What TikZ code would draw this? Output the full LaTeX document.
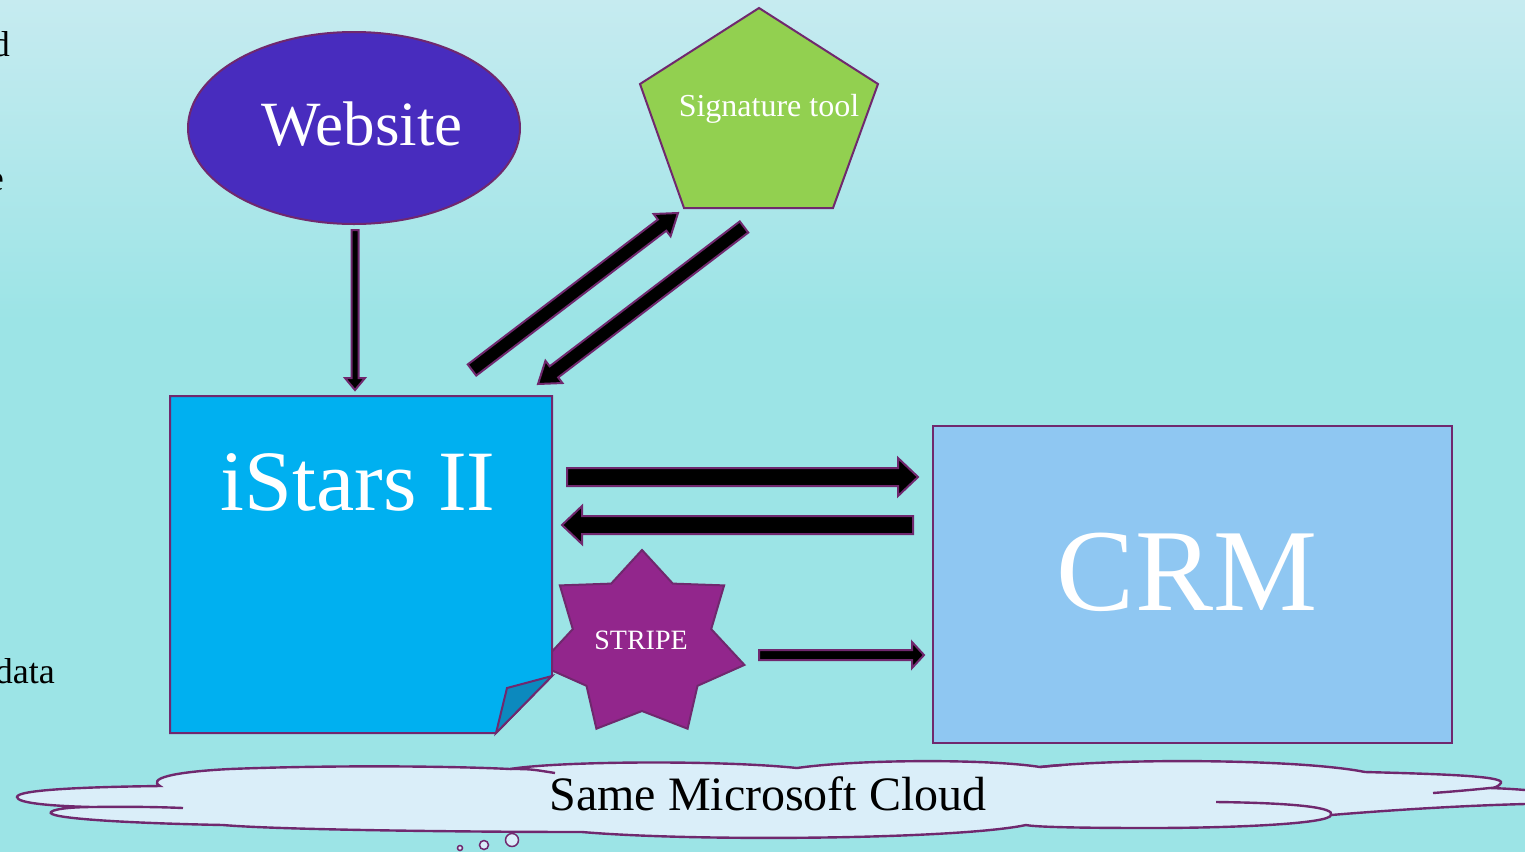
\documentclass[tikz,border=0pt]{standalone}
\usepackage{fontspec}
\setmainfont{Liberation Serif}
\usetikzlibrary{calc,shapes.geometric}
\definecolor{bgtop}{RGB}{198,235,240}
\definecolor{bgbot}{RGB}{156,228,230}
\definecolor{edge}{RGB}{112,40,110}
\definecolor{webfill}{RGB}{72,44,190}
\definecolor{sigfill}{RGB}{146,208,80}
\definecolor{istfill}{RGB}{0,176,240}
\definecolor{foldfill}{RGB}{12,137,190}
\definecolor{crmfill}{RGB}{143,199,242}
\definecolor{starfill}{RGB}{146,38,140}
\definecolor{cloudfill}{RGB}{218,238,249}
\tikzset{
  shapeline/.style={draw=edge, line width=2pt, line join=miter},
  blockarr/.style={draw=edge, line width=2pt, fill=black, line join=miter},
  wtext/.style={text=white, inner sep=0pt},
  btext/.style={text=black, inner sep=0pt},
  cloudline/.style={draw=edge, line width=2.4pt},
}
\newcommand\blockarrow[5]{%
  \coordinate (bahead) at ($(#2)!#5!(#1)$);
  \draw[blockarr] ($(#1)!#3!90:(#2)$) -- ($(bahead)!#3!90:(#2)$) -- ($(bahead)!#4!90:(#2)$) -- (#2) -- ($(bahead)!#4!-90:(#2)$) -- ($(bahead)!#3!-90:(#2)$) -- ($(#1)!#3!-90:(#2)$) -- cycle;}
\begin{document}
\begin{tikzpicture}[x=1pt,y=-1pt]
\useasboundingbox (0,0) rectangle (1525,852);
\clip (0,0) rectangle (1525,852);
% background
\fill[bgbot] (0,0) rectangle (1525,852);
\shade[top color=bgtop, bottom color=bgbot] (0,0) rectangle (1525,320);
% cut-off text at left edge (as in the reference)
\node[btext, anchor=base east, font=\fontsize{36}{40}\selectfont] (tl1) at (10,56) {d};
\node[btext, anchor=base east, font=\fontsize{36}{40}\selectfont] (tl2) at (4,190) {e};
\node[btext, anchor=base east, font=\fontsize{36}{40}\selectfont] (tl3) at (55,683) {data};
% cloud outline
\draw[cloudline, fill=cloudfill]
  (92,807) .. controls (50,806) and (17,803) .. (17,797)
  .. controls (17,790) and (80,787) .. (160,786)
  .. controls (148,779) and (170,772) .. (230,769)
  .. controls (330,765) and (450,766) .. (510,769)
  .. controls (560,761) and (720,760) .. (797,768)
  .. controls (860,759) and (990,759) .. (1040,767)
  .. controls (1120,758) and (1300,759) .. (1365,772)
  .. controls (1440,774) and (1505,776) .. (1501,783)
  .. controls (1498,787) and (1494,788) .. (1490,788)
  .. controls (1520,789) and (1560,792) .. (1560,798)
  .. controls (1560,803) and (1530,804) .. (1525,804)
  .. controls (1450,806) and (1380,811) .. (1331,815)
  .. controls (1330,824) and (1230,828) .. (1150,828)
  .. controls (1080,828) and (1035,827) .. (1026,825)
  .. controls (960,839) and (700,842) .. (582,832)
  .. controls (480,832) and (280,830) .. (223,825)
  .. controls (120,823) and (45,818) .. (51,812)
  .. controls (55,808) and (80,807) .. (92,807) -- cycle;
% inner cloud arcs
\draw[cloudline] (92,807) .. controls (130,806.5) and (160,807) .. (183,808);
\draw[cloudline] (510,769) .. controls (530,769) .. (555,773);
\draw[cloudline] (1040,767) .. controls (1050,766) .. (1062,765);
\draw[cloudline] (1216,802) .. controls (1300,803) and (1335,808) .. (1331,815);
\draw[cloudline] (1433,793) .. controls (1460,791) and (1480,789) .. (1490,788);
% thought bubbles
\draw[edge, line width=1.5pt, fill=cloudfill] (460,848) circle (2.5);
\draw[edge, line width=1.5pt, fill=cloudfill] (484,845) circle (4.5);
\draw[edge, line width=1.5pt, fill=cloudfill] (512,840) circle (6.5);
\node[btext, anchor=base, font=\fontsize{48}{52}\selectfont] (cloud) at (768,810) {Same Microsoft Cloud};
% website
\node[ellipse, shapeline, fill=webfill, minimum width=332pt, minimum height=192pt, inner sep=0pt] (web) at (354,128) {};
\node[wtext, anchor=base, font=\fontsize{63}{68}\selectfont] (webtext) at (362,145) {Website};
% signature tool pentagon
\draw[shapeline, fill=sigfill] (759,8) -- (878,84) -- (833,208) -- (684,208) -- (640,84) -- cycle;
\node[wtext, anchor=base, font=\fontsize{32}{35}\selectfont] (sig) at (769,116) {Signature tool};
% arrows
\coordinate (a1s) at (355,230); \coordinate (a1e) at (355,390);
\coordinate (a2s) at (472,370); \coordinate (a2e) at (678,213);
\coordinate (a3s) at (744,227); \coordinate (a3e) at (538,384);
\coordinate (a4s) at (567,477); \coordinate (a4e) at (918,477);
\coordinate (a5s) at (913,525); \coordinate (a5e) at (562,525);
\coordinate (a6s) at (759,655); \coordinate (a6e) at (924,655);
\blockarrow{a1s}{a1e}{3.5pt}{10pt}{12pt}
\blockarrow{a2s}{a2e}{7pt}{14pt}{20pt}
\blockarrow{a3s}{a3e}{7pt}{14pt}{20pt}
\blockarrow{a4s}{a4e}{9pt}{19pt}{20pt}
\blockarrow{a5s}{a5e}{9pt}{19pt}{20pt}
\blockarrow{a6s}{a6e}{5pt}{13pt}{12pt}
% stripe star (behind iStars)
\draw[shapeline, fill=starfill] (642,550) -- (672.8,583.6) -- (724.1,585.4) -- (711.2,629.1) -- (744.4,664.9) -- (697.5,685.8) -- (687.6,728.7) -- (642,711) -- (596.4,728.7) -- (586.5,685.8) -- (539.6,664.9) -- (572.8,629.1) -- (559.9,585.4) -- (611.2,583.6) -- cycle;
\node[wtext, anchor=base, font=\fontsize{28}{30}\selectfont] (stripe) at (641,649) {STRIPE};
% iStars II
\draw[shapeline, fill=istfill] (170,396) -- (552,396) -- (552,676) -- (496,733) -- (170,733) -- cycle;
\draw[shapeline, fill=foldfill] (552,676) -- (507,688) -- (496,733) -- cycle;
\node[wtext, anchor=base, font=\fontsize{86}{90}\selectfont] (ist) at (358,510) {iStars II};
% CRM
\node[shapeline, fill=crmfill, minimum width=519pt, minimum height=317pt, inner sep=0pt] (crm) at (1192.5,584.5) {};
\node[wtext, anchor=base, font=\fontsize{117}{120}\selectfont] (crmtext) at (1187,610) {CRM};
\end{tikzpicture}
\end{document}
